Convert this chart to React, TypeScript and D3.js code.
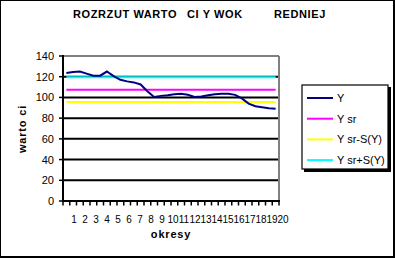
import React from "react";
import * as d3 from "d3";

const values: number[] = [
  123.5, 124.5, 125, 123, 121, 121, 125, 120.5, 117, 115.5, 114.5, 112.5,
  106, 100.5, 101.5, 102, 103, 103.5, 102.5, 100.5, 101, 102, 103, 103.5,
  103.5, 102.5, 99, 94, 91.5, 90.5, 89.5, 89,
];
const ysr: number[] = [107.5];
const ysrMinus: number[] = [95.5];
const ysrPlus: number[] = [119.5];
const yTicks: number[] = [0, 20, 40, 60, 80, 100, 120, 140];
const xLabels: string[] = Array.from({ length: 20 }, (_, i) => String(i + 1));
const legendNames: string[] = ["Y sr", "Y sr-S(Y)", "Y sr+S(Y)"];
const colors = { y: "#000080", ysr: "#FF00FF", minus: "#FFFF00", plus: "#00FFFF" };

export default function App() {
  const W = 395, H = 258;
  const left = 63, right = 279, top = 56, bottom = 201;
  const idx = values.map((_, i) => i);
  const xb = d3.scaleBand<number>().domain(idx).range([left, right]).padding(0);
  const xc = (i: number) => (xb(i) as number) + xb.bandwidth() / 2;
  const y = d3.scaleLinear().domain([0, 140]).range([bottom, top]);
  const line = d3.line<number>().x((_, i) => xc(i)).y((d) => y(d));
  const xl = d3.scaleLinear().domain([1, 20]).range([74, 283]);
  const x0 = xc(0), x1 = xc(values.length - 1);
  const font = "'Liberation Sans', Arial, sans-serif";
  const hlines = [
    { v: ysr[0], c: colors.ysr },
    { v: ysrMinus[0], c: colors.minus },
    { v: ysrPlus[0], c: colors.plus },
  ];
  const legendItems = [
    { name: "Y", c: colors.y },
    { name: legendNames[0], c: colors.ysr },
    { name: legendNames[1], c: colors.minus },
    { name: legendNames[2], c: colors.plus },
  ];
  const xTickPos = d3.range(values.length + 1).map((i) => left + i * xb.bandwidth());
  return (
    <svg width={W} height={H} style={{ position: "fixed", left: 0, top: 0 }} fontFamily={font}>
      <rect x={0} y={0} width={W} height={H} fill="#000" />
      <rect x={1} y={1} width={392} height={255} fill="#fff" />
      <g fontWeight="bold" fontSize={11} letterSpacing={0.6}>
        <text x={73} y={18}>ROZRZUT WARTO</text>
        <text x={187} y={18}>CI Y WOK</text>
        <text x={274} y={18}>REDNIEJ</text>
      </g>
      {yTicks.filter((t) => t > 0 && t < 140).map((t) => (
        <line key={t} x1={left} x2={right} y1={y(t)} y2={y(t)} stroke="#000" strokeWidth={2} />
      ))}
      <line x1={left} x2={right} y1={y(140)} y2={y(140)} stroke="#808080" strokeWidth={2} />
      <line x1={right} x2={right} y1={y(140)} y2={bottom} stroke="#808080" strokeWidth={2} />
      <line x1={left} x2={left} y1={top - 1} y2={bottom + 1} stroke="#000" strokeWidth={2} />
      <line x1={left - 1} x2={right + 1} y1={bottom} y2={bottom} stroke="#000" strokeWidth={2} />
      {yTicks.map((t) => (
        <g key={t}>
          <line x1={left - 4} x2={left} y1={y(t)} y2={y(t)} stroke="#000" strokeWidth={1.5} />
          <text x={54} y={y(t) + 4} textAnchor="end" fontSize={11}>{t}</text>
        </g>
      ))}
      {xTickPos.map((p, i) => (
        <line key={i} x1={p} x2={p} y1={bottom} y2={bottom + 4.5} stroke="#000" strokeWidth={1.5} />
      ))}
      {xLabels.map((l, i) => (
        <text key={l} x={xl(i + 1)} y={223} textAnchor="middle" fontSize={10}>{l}</text>
      ))}
      <text x={171} y={238} textAnchor="middle" fontWeight="bold" fontSize={11} letterSpacing={0.8}>okresy</text>
      <text transform="translate(26,129) rotate(-90)" textAnchor="middle" fontWeight="bold" fontSize={11} letterSpacing={0.8}>warto ci</text>
      {hlines.map((h, i) => (
        <line key={i} x1={x0} x2={x1} y1={y(h.v)} y2={y(h.v)} stroke={h.c} strokeWidth={2} />
      ))}
      <path d={line(values) as string} fill="none" stroke={colors.y} strokeWidth={2} />
      <rect x={304} y={87} width={87} height={85} fill="#000" />
      <rect x={302} y={85} width={86} height={84} fill="#fff" stroke="#000" strokeWidth={1.2} />
      {legendItems.map((it, i) => {
        const ly = 98 + i * 20.7;
        return (
          <g key={it.name}>
            <line x1={307} x2={333} y1={ly} y2={ly} stroke={it.c} strokeWidth={2} />
            <text x={337} y={ly + 4} fontSize={11}>{it.name}</text>
          </g>
        );
      })}
    </svg>
  );
}
